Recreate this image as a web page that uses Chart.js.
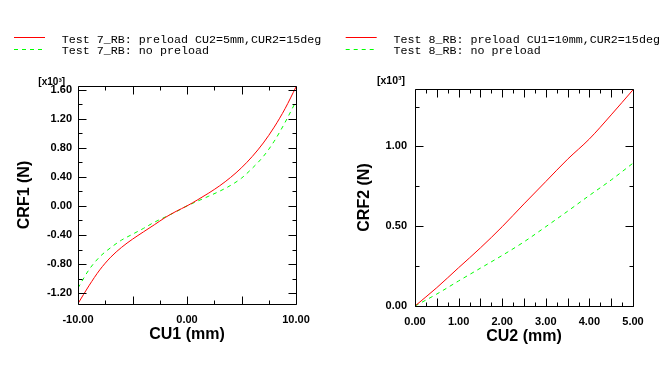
<!DOCTYPE html>
<html><head><meta charset="utf-8">
<script src="https://cdn.jsdelivr.net/npm/chart.js"></script>
<style>
html,body{margin:0;padding:0;background:#fff;width:668px;height:366px;overflow:hidden;}
canvas{position:absolute;top:0;}
#c1{left:0;}
#c2{left:334px;}
</style></head>
<body>
<canvas id="c1" width="334" height="366" style="width:334px;height:366px"></canvas>
<canvas id="c2" width="334" height="366" style="width:334px;height:366px"></canvas>
<script>
// ---- Data (values in x10^3 N) ----
const cu1 = [-10,-9,-8,-7,-6,-5,-4,-3,-2,-1,0,1,2,3,4,5,6,7,8,9,10];
const crf1Preload   = [-1.345,-1.10,-0.88,-0.706,-0.57,-0.458,-0.358,-0.26,-0.16,-0.075,0.0,0.086,0.177,0.277,0.392,0.525,0.682,0.866,1.084,1.339,1.637];
const crf1NoPreload = [-1.13,-0.88,-0.70,-0.575,-0.47,-0.39,-0.31,-0.225,-0.153,-0.08,0.0,0.068,0.134,0.203,0.282,0.382,0.52,0.68,0.89,1.15,1.44];
const cu2 = [0,0.5,1,1.5,2,2.5,3,3.5,4,4.5,5];
const crf2Preload   = [0,0.115,0.24,0.364,0.497,0.64,0.78,0.92,1.047,1.198,1.355];
const crf2NoPreload = [0,0.075,0.157,0.237,0.317,0.402,0.497,0.594,0.693,0.79,0.895];

const legend1 = ['Test 7_RB: preload CU2=5mm,CUR2=15deg','Test 7_RB: no preload'];
const legend2 = ['Test 8_RB: preload CU1=10mm,CUR2=15deg','Test 8_RB: no preload'];

// tick values
const x1Labels = [-10,0,10];
const x1Major = [-10,-5,0,5,10];
const x1Minor = [-7.5,-2.5,2.5,7.5];
const y1Labels = [-1.2,-0.8,-0.4,0,0.4,0.8,1.2,1.6];
const y1Major = [-1.2,-0.8,-0.4,0,0.4,0.8,1.2,1.6];
const y1Minor = [-1.0,-0.6,-0.2,0.2,0.6,1.0,1.4];

const x2Labels = [0,1,2,3,4,5];
const x2Major = [0,0.5,1,1.5,2,2.5,3,3.5,4,4.5,5];
const x2Minor = [0.25,0.75,1.25,1.75,2.25,2.75,3.25,3.75,4.25,4.75];
const y2Labels = [0,0.5,1.0];
const y2Major = [0,0.5,1.0];
const y2Minor = [0.25,0.75,1.25];

const RED = '#ff0000', GREEN = '#00ff00';

const framePlugin = {
  id: 'frameTicks',
  afterDatasetsDraw(chart, args, o) {
    const {ctx, chartArea: a, scales: {x, y}} = chart;
    ctx.save();
    ctx.strokeStyle = '#000';
    ctx.lineWidth = 1;
    const L = Math.round(a.left) + 0.5, R = Math.round(a.right) + 0.5;
    const T = Math.round(a.top) + 0.5, B = Math.round(a.bottom) + 0.5;
    ctx.beginPath();
    ctx.rect(L, T, R - L, B - T);
    const xt = (vals, len) => vals.forEach(v => {
      const p = Math.round(x.getPixelForValue(v)) + 0.5;
      ctx.moveTo(p, B); ctx.lineTo(p, B - len);
      ctx.moveTo(p, T); ctx.lineTo(p, T + len);
    });
    const yt = (vals, len) => vals.forEach(v => {
      const p = Math.round(y.getPixelForValue(v)) + 0.5;
      ctx.moveTo(L, p); ctx.lineTo(L + len, p);
      ctx.moveTo(R, p); ctx.lineTo(R - len, p);
    });
    xt(o.xMajor, 8); xt(o.xMinor, 4);
    yt(o.yMajor, 8); yt(o.yMinor, 4);
    ctx.stroke();

    // exponent label
    ctx.fillStyle = '#000';
    ctx.font = 'bold ' + o.expSize + 'px "Liberation Sans", Arial, sans-serif';
    ctx.textAlign = 'center';
    ctx.textBaseline = 'alphabetic';
    ctx.fillText('[x10\u00b3]', o.expX, o.expY);

    // legend
    ctx.font = '11.7px "Liberation Mono", "DejaVu Sans Mono", monospace';
    ctx.textAlign = 'left';
    const lx = o.legX;
    ctx.beginPath();
    ctx.strokeStyle = RED;
    ctx.moveTo(lx, 37.5); ctx.lineTo(lx + 31, 37.5);
    ctx.stroke();
    ctx.beginPath();
    ctx.strokeStyle = GREEN;
    ctx.setLineDash([4, 4]);
    ctx.moveTo(lx, 49.5); ctx.lineTo(lx + 28, 49.5);
    ctx.stroke();
    ctx.setLineDash([]);
    ctx.fillText(o.legend[0], lx + 47.7, 42.5);
    ctx.fillText(o.legend[1], lx + 47.7, 53.8);
    ctx.restore();
  }
};

const tickFont = {family: '"Liberation Sans", Arial, sans-serif', weight: 'bold', size: 11};
const titleFont = {family: '"Liberation Sans", Arial, sans-serif', weight: 'bold', size: 16};

function makeChart(id, c) {
  return new Chart(document.getElementById(id), {
    type: 'line',
    data: {
      datasets: [
        {label: c.legend[0], data: c.xs.map((v, i) => ({x: v, y: c.ya[i]})), borderColor: RED, borderWidth: 1,
         pointRadius: 0, cubicInterpolationMode: 'monotone', fill: false},
        {label: c.legend[1], data: c.xs.map((v, i) => ({x: v, y: c.yb[i]})), borderColor: GREEN, borderWidth: 1,
         borderDash: [4, 4], pointRadius: 0, cubicInterpolationMode: 'monotone', fill: false}
      ]
    },
    options: {
      responsive: false, animation: false, events: [],
      layout: {padding: {left: 0, right: c.padR, top: c.padT, bottom: c.padB}},
      plugins: {
        legend: {display: false}, tooltip: {enabled: false},
        frameTicks: {xMajor: c.xMajor, xMinor: c.xMinor, yMajor: c.yMajor, yMinor: c.yMinor,
                     expX: c.expX, expY: c.expY, expSize: c.expSize, legX: c.legX, legend: c.legend}
      },
      scales: {
        x: {
          type: 'linear', min: c.xMin, max: c.xMax,
          afterBuildTicks: s => { s.ticks = c.xLabels.map(v => ({value: v})); },
          afterFit: s => { s.height = 50; },
          grid: {display: false, drawTicks: false}, border: {display: false},
          ticks: {padding: 9, font: tickFont, color: '#000', maxRotation: 0, autoSkip: false,
                  callback: v => Number(v).toFixed(2)},
          title: {display: true, text: c.xTitle, font: titleFont, color: '#000', padding: {top: 0, bottom: 10}}
        },
        y: {
          type: 'linear', min: c.yMin, max: c.yMax,
          afterBuildTicks: s => { s.ticks = c.yLabels.map(v => ({value: v})); },
          afterFit: s => { s.width = c.yW; },
          grid: {display: false, drawTicks: false}, border: {display: false},
          ticks: {padding: c.yPad, font: tickFont, color: '#000', autoSkip: false,
                  callback: v => Number(v).toFixed(2)},
          title: {display: true, text: c.yTitle, font: titleFont, color: '#000', padding: {top: c.yTitlePad, bottom: 0}}
        }
      }
    },
    plugins: [framePlugin]
  });
}

makeChart('c1', {
  xs: cu1, ya: crf1Preload, yb: crf1NoPreload, legend: legend1,
  xMin: -10, xMax: 10, yMin: -1.35, yMax: 1.65,
  xLabels: x1Labels, xMajor: x1Major, xMinor: x1Minor,
  yLabels: y1Labels, yMajor: y1Major, yMinor: y1Minor,
  xTitle: 'CU1 (mm)', yTitle: 'CRF1 (N)',
  padR: 38, padT: 86, padB: 12, yW: 78, yPad: 6, yTitlePad: 15,
  expX: 51.7, expY: 85, expSize: 10, legX: 14
});
makeChart('c2', {
  xs: cu2, ya: crf2Preload, yb: crf2NoPreload, legend: legend2,
  xMin: 0, xMax: 5, yMin: 0, yMax: 1.36,
  xLabels: x2Labels, xMajor: x2Major, xMinor: x2Minor,
  yLabels: y2Labels, yMajor: y2Major, yMinor: y2Minor,
  xTitle: 'CU2 (mm)', yTitle: 'CRF2 (N)',
  padR: 35, padT: 89, padB: 10, yW: 81, yPad: 8, yTitlePad: 21,
  expX: 57, expY: 84, expSize: 10.5, legX: 11.7
});
</script>
</body></html>
